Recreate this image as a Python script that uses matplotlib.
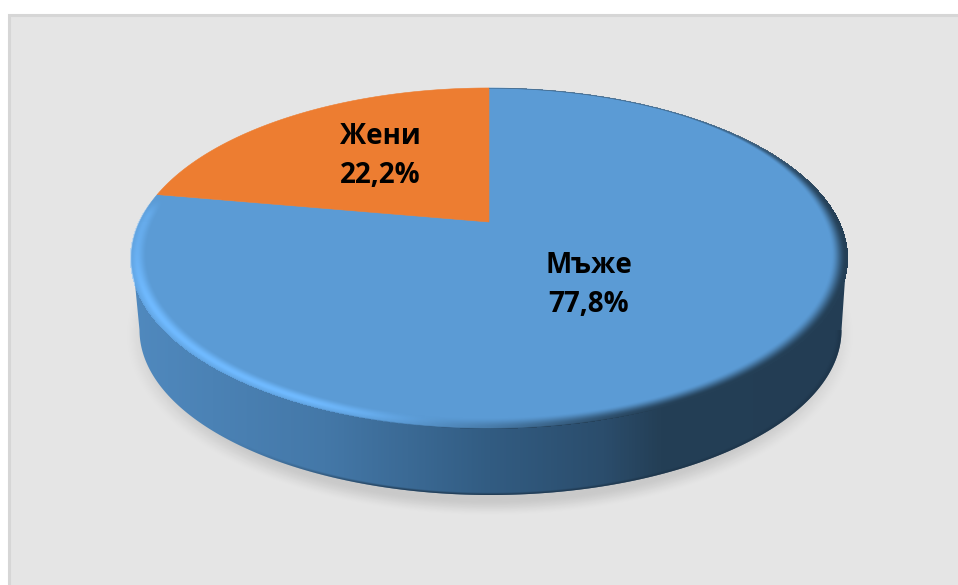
import numpy as np
import matplotlib
matplotlib.use("Agg")
import matplotlib.pyplot as plt
from matplotlib.colors import LinearSegmentedColormap, to_rgb
from matplotlib.patches import Polygon, Rectangle

# Data
categories = ["Мъже", "Жени"]
shares = [77.8, 22.2]
slice_colors = ["#5B9BD5", "#ED7D31"]
label_xy = [(589, 285), (380, 156)]

W, H = 958, 585
plt.rcParams["font.family"] = ["Open Sans", "DejaVu Sans"]

# Perspective view of the unit disc on the canvas
CX, CY, A, B, K = 489.0, 222.0, 349.5, 162.4, 0.2117


def project(x, y):
    d = 1 + K * y
    return CX + A * x / d, CY - B * y / d


def unproject(u, v):
    du, dv = u - CX, v - CY
    y = -dv / (B + K * dv)
    x = du * (1 + K * y) / A
    return x, y


def smooth(a, lo, hi):
    t = np.clip((a - lo) / (hi - lo), 0, 1)
    return t * t * (3 - 2 * t)


def rgba_layer(rgb, alpha):
    img = np.zeros((H, W, 4))
    img[..., :3] = to_rgb(rgb)
    img[..., 3] = alpha
    return img


fig = plt.figure(figsize=(W / 100, H / 100), dpi=100, facecolor="white")
ax = fig.add_axes([0, 0, 1, 1])
ax.set_xlim(0, W)
ax.set_ylim(H, 0)
ax.axis("off")
extent = (0, W, H, 0)

# Panel behind the pie
ax.add_patch(Rectangle((9.5, 14.5), W, H, facecolor="#E5E5E5",
                       edgecolor="#D6D6D6", linewidth=2.2, zorder=0))

uu, vv = np.meshgrid(np.arange(W) + 0.5, np.arange(H) + 0.5)

# Soft ground shadow
rho = np.hypot((uu - 490) / 367, (vv - 335) / 182)
ax.imshow(rgba_layer("#000000", 0.125 * (1 - smooth(rho, 0.90, 1.0))),
          extent=extent, interpolation="nearest", zorder=1, aspect="auto")

# Side wall: lower ellipse joined to the widest points of the top face
t = np.linspace(0, np.pi, 240)
low_x, low_y = 490.5 + 351 * np.cos(t), 330 + 165 * np.sin(t)
wall = Polygon(np.column_stack([np.r_[846.5, low_x, 132.5],
                                np.r_[258, low_y, 258]]),
               closed=True, facecolor="none", edgecolor="none", zorder=2)
ax.add_patch(wall)
wall_cmap = LinearSegmentedColormap.from_list(
    "wall",
    [(0.0, "#5089BE"), (0.27, "#4478A8"), (0.50, "#325C82"),
     (0.66, "#2B4D6C"), (0.74, "#243F56"), (1.0, "#233D54")])
grad = np.linspace(0, 1, 512).reshape(1, -1)
wall_img = ax.imshow(grad, cmap=wall_cmap, extent=(132, 847, 500, 250),
                     aspect="auto", zorder=2, interpolation="bilinear")
wall_img.set_clip_path(wall)

# Darker foot of the wall, fading out towards the left
low_rho = np.hypot((uu - 490.5) / 351, (vv - 330) / 165)
foot_alpha = 0.75 * smooth(low_rho, 0.982, 0.998) * smooth(uu, 210, 430) * (vv > 330)
foot_img = ax.imshow(rgba_layer("#1D3449", foot_alpha), extent=extent,
                     interpolation="bilinear", zorder=3, aspect="auto")
foot_img.set_clip_path(wall)

# Slices, clockwise from twelve o'clock
start = 0.0
for share, color in zip(shares, slice_colors):
    sweep = share / sum(shares) * 2 * np.pi
    ang = np.linspace(start, start + sweep, 300)
    px, py = project(np.sin(ang), np.cos(ang))
    pts = np.column_stack([np.r_[CX, px], np.r_[CY, py]])
    ax.add_patch(Polygon(pts, closed=True, facecolor=color,
                         edgecolor=color, linewidth=0.4, zorder=4))
    start += sweep

# Rounded rim of the top face: highlight on the lit side, dark on the far side
dx, dy = unproject(uu, vv)
r = np.hypot(dx, dy)
theta = np.degrees(np.arctan2(dy, dx))
inside = (1 + K * dy > 0) & (r <= 1.004)
lit = (1 - smooth(theta, -118, -92)) * (theta < 0) * (1 - 0.45 * smooth(theta, -150, -179))
lit = lit + 0.5 * smooth(theta, 171, 178) * (theta > 0)
band = smooth(r, 0.958, 0.985) * (1 - 0.45 * smooth(r, 0.985, 1.0))
ax.imshow(rgba_layer("#70BAFF", np.where(inside, lit * band, 0)),
          extent=extent, interpolation="bilinear", zorder=5, aspect="auto")
# Dark band fades into a hairline towards the top of the disc
shade = smooth(theta, -108, -62) * (theta < 90)
upper = smooth(theta, 0, 55)
width_lo = 0.958 + (0.99 - 0.958) * upper
shade_rim = np.clip((r - width_lo) / (0.999 - width_lo), 0, 1)
shade_rim = shade_rim * shade_rim * (3 - 2 * shade_rim) * (1 - 0.5 * upper)
ax.imshow(rgba_layer("#243F56", np.where(inside, shade * shade_rim, 0)),
          extent=extent, interpolation="bilinear", zorder=6, aspect="auto")
ax.set_xlim(0, W)
ax.set_ylim(H, 0)

# Slice labels
for name, share, (lx, ly) in zip(categories, shares, label_xy):
    txt = f"{name}\n{share:.1f}%".replace(".", ",")
    ax.text(lx, ly, txt, ha="center", va="center", fontsize=20,
            fontweight="bold", color="black", linespacing=1.42, zorder=7)

fig.savefig("out.png", dpi=100, facecolor="white")
